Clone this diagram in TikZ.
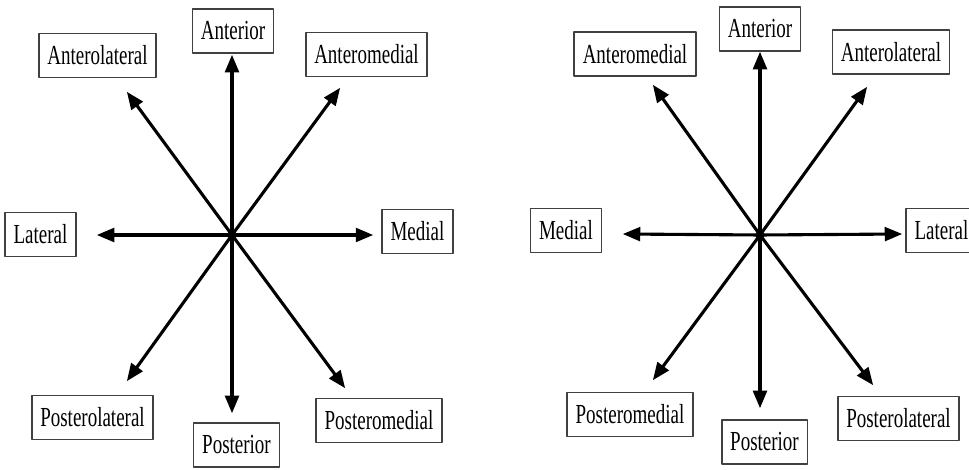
\documentclass[tikz,border=0pt]{standalone}
\usepackage{fontspec}
\setmainfont{Liberation Serif}
\usetikzlibrary{arrows}
\tikzset{
	lbl/.style={draw=black!75,line width=1.6pt,inner xsep=8.5pt,inner ysep=0pt,minimum height=44pt,font=\fontsize{19}{22}\selectfont},
	arr/.style={->,line width=3.1pt},
	dot/.style={circle,fill=black,inner sep=0pt,minimum size=9pt}
}
\newcommand{\tallt}[1]{\scalebox{1}[1.45]{#1}}

\begin{document}
\begin{tikzpicture}[line cap=butt,line join=round,>=triangle 45,x=1pt,y=1pt]%left and right
			\useasboundingbox (0,0) rectangle (969,469);
			\clip (0,0) rectangle (969,469);
			% left
			\node [dot] (o1) at (232,234) {};
			\coordinate (n1) at (232,414);
			\coordinate (nw1) at (127,377);
			\coordinate (ne1) at (340,381);
			\coordinate (e1) at (373,234);
			\coordinate (w1) at (97,234);
			\coordinate (sw1) at (127,88);
			\coordinate (s1) at (232,56);
			\coordinate (se1) at (345,81);
			\draw [arr] (o1.center)-- (n1);
			\draw [arr] (o1.center)-- (nw1);
			\draw [arr] (o1.center)-- (ne1);
			\draw [arr] (o1.center)-- (e1);
			\draw [arr] (o1.center)-- (w1);
			\draw [arr] (o1.center)-- (sw1);
			\draw [arr] (o1.center)-- (s1);
			\draw [arr] (o1.center)-- (se1);
			\node [lbl] (ant1) at (233,438) {\tallt{Anterior}};
			\node [lbl] (antlat1) at (97.5,413.5) {\tallt{Anterolateral}};
			\node [lbl] (antmed1) at (366.5,414.5) {\tallt{Anteromedial}};
			\node [lbl] (med1) at (417.5,237.5) {\tallt{Medial}};
			\node [lbl] (lat1) at (40.5,234.5) {\tallt{Lateral}};
			\node [lbl] (postlat1) at (92.5,51.5) {\tallt{Posterolateral}};
			\node [lbl] (post1) at (236.5,24) {\tallt{Posterior}};
			\node [lbl] (postmed1) at (379,48.5) {\tallt{Posteromedial}};
			% right
			\node [dot] (o2) at (760,234) {};
			\coordinate (n2) at (760,417);
			\coordinate (nw2) at (653,384);
			\coordinate (ne2) at (867,382);
			\coordinate (w2) at (623,235);
			\coordinate (e2) at (902,235);
			\coordinate (sw2) at (653,89);
			\coordinate (s2) at (760,61);
			\coordinate (se2) at (873,84);
			\draw [arr] (o2.center)-- (n2);
			\draw [arr] (o2.center)-- (nw2);
			\draw [arr] (o2.center)-- (ne2);
			\draw [arr] (o2.center)-- (w2);
			\draw [arr] (o2.center)-- (e2);
			\draw [arr] (o2.center)-- (sw2);
			\draw [arr] (o2.center)-- (s2);
			\draw [arr] (o2.center)-- (se2);
			\node [lbl] (ant2) at (760,440) {\tallt{Anterior}};
			\node [lbl] (antmed2) at (635,415) {\tallt{Anteromedial}};
			\node [lbl] (antlat2) at (891,417) {\tallt{Anterolateral}};
			\node [lbl] (med2) at (566,238.5) {\tallt{Medial}};
			\node [lbl] (lat2) at (941.5,238.5) {\tallt{Lateral}};
			\node [lbl] (postmed2) at (630,54.5) {\tallt{Posteromedial}};
			\node [lbl] (post2) at (764.5,27) {\tallt{Posterior}};
			\node [lbl] (postlat2) at (898.5,50.5) {\tallt{Posterolateral}};
		\end{tikzpicture}
\end{document}
